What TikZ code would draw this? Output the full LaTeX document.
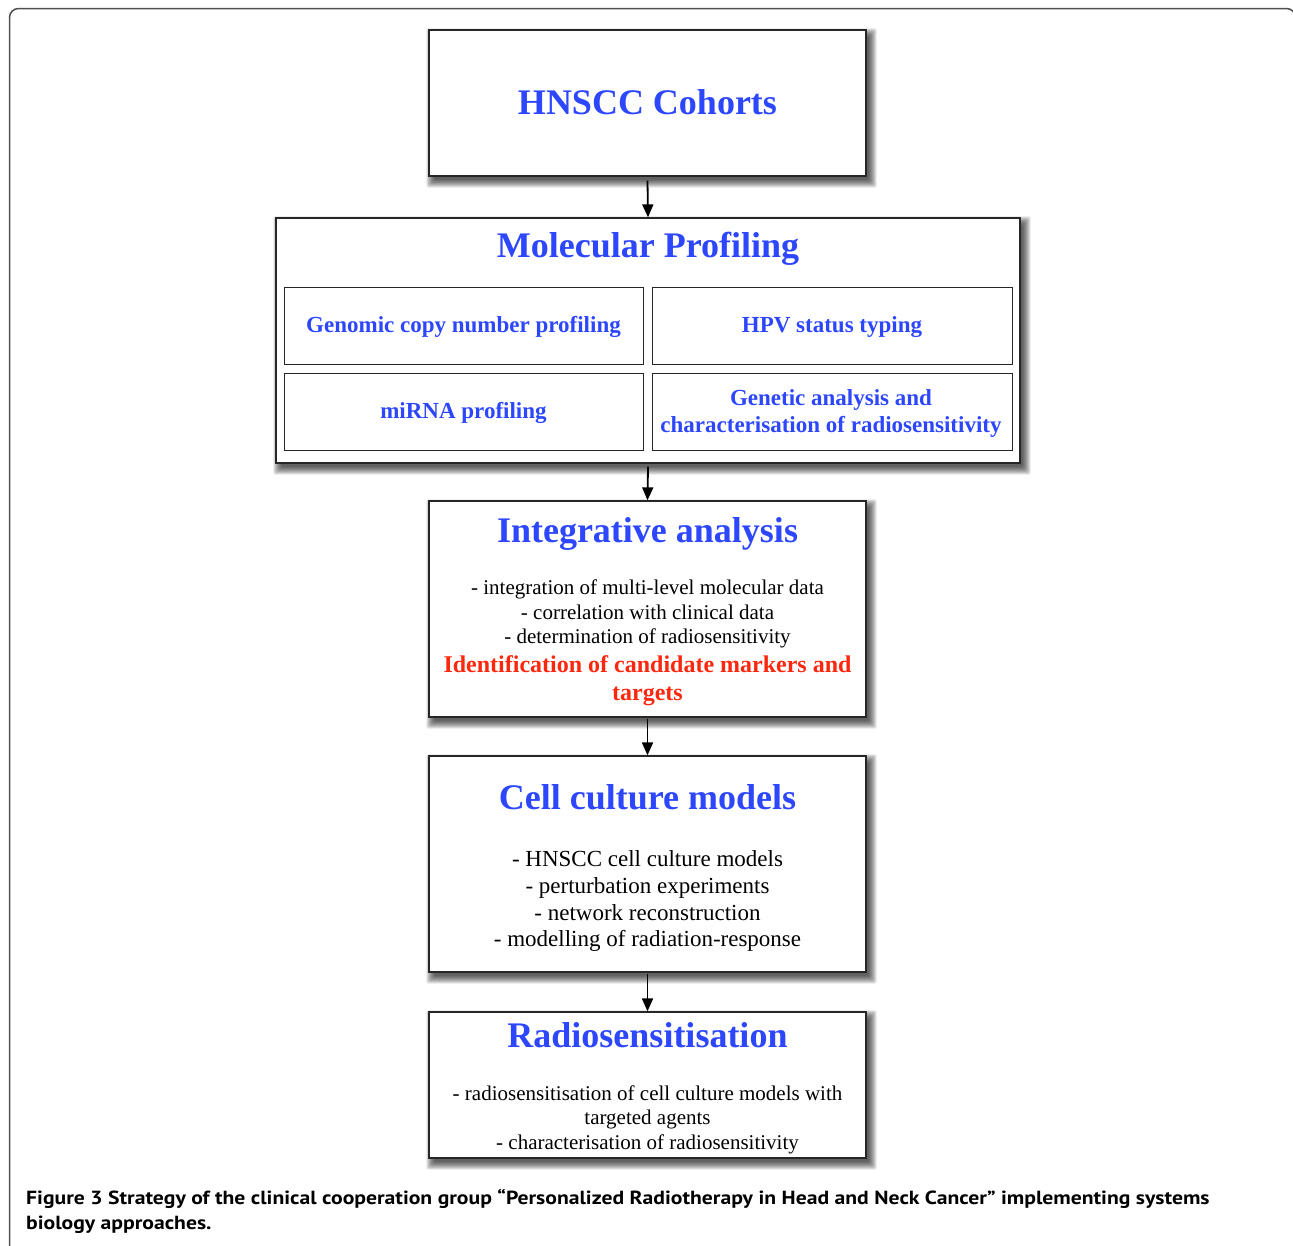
\documentclass[tikz,border=0pt]{standalone}
\usepackage{fontspec}
\setmainfont{Liberation Serif}
\newfontfamily\capfont[FakeStretch=1.14]{PT Sans}
\usetikzlibrary{arrows.meta}
\definecolor{myblue}{RGB}{45,70,255}
\definecolor{myred}{RGB}{255,40,15}
\definecolor{framegray}{RGB}{80,80,80}
\pgfdeclarelayer{bg}
\pgfsetlayers{bg,main}
\newcommand{\softshadow}[1]{%
  \foreach \d in {-2,-1,0,...,6}{%
    \fill[black,opacity=0.1,rounded corners=2pt]
      ([xshift=4pt-\d pt,yshift=-5pt+\d pt]#1.north west) rectangle
      ([xshift=4pt+\d pt,yshift=-5pt-\d pt]#1.south east);
  }%
}
\begin{document}
\begin{tikzpicture}[x=1pt,y=-1pt,
  box/.style={draw=black!85,line width=1.3pt,fill=white,inner sep=0pt},
  ibox/.style={draw=black!85,line width=1pt,fill=white,inner sep=0pt},
  ttl/.style={anchor=base,text=myblue,font=\fontsize{36}{40}\selectfont\bfseries,inner sep=0pt},
  sub/.style={anchor=base,text=myblue,font=\fontsize{23}{27}\selectfont\bfseries,inner sep=0pt},
  redtext/.style={anchor=base,text=myred,font=\fontsize{24}{28}\selectfont\bfseries,inner sep=0pt},
  bodytext/.style={anchor=base,font=\fontsize{21}{24}\selectfont,inner sep=0pt},
  bodybig/.style={anchor=base,font=\fontsize{23}{27}\selectfont,inner sep=0pt},
  captext/.style={anchor=base west,font=\capfont\bfseries\fontsize{19}{23}\selectfont,inner sep=0pt},
  arr/.style={-{Triangle[length=13pt,width=11pt]},line width=1.8pt},
]
\useasboundingbox (0,0) rectangle (1293,1245);

% boxes
\node[box,minimum width=437pt,minimum height=146pt] (b1) at (647.5,103) {};
\node[box,minimum width=744pt,minimum height=245pt] (b2) at (648,340.5) {};
\node[ibox,minimum width=359pt,minimum height=77pt] (ia) at (463.5,325.5) {};
\node[ibox,minimum width=360pt,minimum height=77pt] (ib) at (832,325.5) {};
\node[ibox,minimum width=359pt,minimum height=77pt] (ic) at (463.5,411.5) {};
\node[ibox,minimum width=360pt,minimum height=77pt] (id) at (832,411.5) {};
\node[box,minimum width=437pt,minimum height=216pt] (b3) at (647.5,609) {};
\node[box,minimum width=437pt,minimum height=216pt] (b4) at (647.5,864) {};
\node[box,minimum width=437pt,minimum height=146pt] (b5) at (647.5,1085) {};

\begin{pgfonlayer}{bg}
  \draw[framegray,line width=1.5pt,rounded corners=9pt] (9.5,1250) -- (9.5,8.5) -- (1295.5,8.5) -- (1295.5,1250);
  \softshadow{b1}\softshadow{b2}\softshadow{b3}\softshadow{b4}\softshadow{b5}
\end{pgfonlayer}

% texts
\node[ttl] (t1) at (647.5,114) {HNSCC Cohorts};
\node[ttl] (t2) at (648,257) {Molecular Profiling};
\node[sub] (sa) at (463.5,332) {Genomic copy number profiling};
\node[sub] (sb) at (832,332) {HPV status typing};
\node[sub] (sc) at (463.5,418) {miRNA profiling};
\node[sub] (sd1) at (831,405) {Genetic analysis and};
\node[sub] (sd2) at (831,432) {characterisation of radiosensitivity};

\node[ttl] (t3) at (647.5,542) {Integrative analysis};
\node[bodytext] (l31) at (647.5,594.5) {- integration of multi-level molecular data};
\node[bodytext] (l32) at (647.5,619) {- correlation with clinical data};
\node[bodytext] (l33) at (647.5,643.5) {- determination of radiosensitivity};
\node[redtext] (r1) at (647.5,672.5) {Identification of candidate markers and};
\node[redtext] (r2) at (647.5,700.5) {targets};

\node[ttl] (t4) at (647.5,809) {Cell culture models};
\node[bodybig] (l41) at (647.5,866) {- HNSCC cell culture models};
\node[bodybig] (l42) at (647.5,893) {- perturbation experiments};
\node[bodybig] (l43) at (647.5,920) {- network reconstruction};
\node[bodybig] (l44) at (647.5,946) {- modelling of radiation-response};

\node[ttl] (t5) at (647.5,1047) {Radiosensitisation};
\node[bodytext] (l51) at (647.5,1100) {- radiosensitisation of cell culture models with};
\node[bodytext] (l52) at (647.5,1124.5) {targeted agents};
\node[bodytext] (l53) at (647.5,1149) {- characterisation of radiosensitivity};

% arrows
\draw[arr] ([yshift=-4pt]b1.south) -- (b2.north);
\draw[arr] ([yshift=-3pt]b2.south) -- (b3.north);
\draw[arr] ([yshift=-1pt]b3.south) -- (b4.north);
\draw[arr] ([yshift=-1pt]b4.south) -- (b5.north);

% caption
\node[captext] (cap1) at (26,1204) {Figure 3 Strategy of the clinical cooperation group “Personalized Radiotherapy in Head and Neck Cancer” implementing systems};
\node[captext] (cap2) at (26,1229) {biology approaches.};
\end{tikzpicture}
\end{document}
